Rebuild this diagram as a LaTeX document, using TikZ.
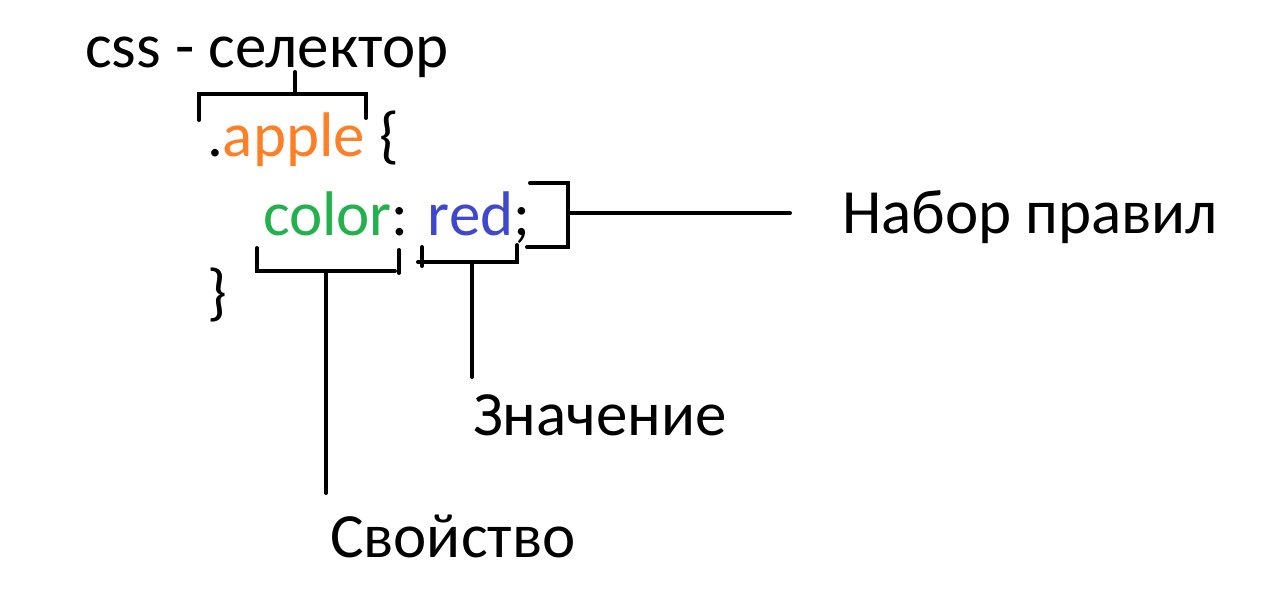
\documentclass[tikz,border=0pt]{standalone}
\usepackage{fontspec}
\setmainfont{Carlito}
\usepackage{xcolor}
\definecolor{paintorange}{HTML}{FF7F27}
\definecolor{paintgreen}{HTML}{22B14C}
\definecolor{paintblue}{HTML}{3F48CC}

\begin{document}
\begin{tikzpicture}[x=1pt, y=-1pt, line width=4pt, line cap=round,
    every node/.style={inner sep=0pt, anchor=base west, font=\fontsize{63}{70}\selectfont}]
        \useasboundingbox (0,0) rectangle (1262,610);

        \node (sel) at (83,67) {css - селектор};
        \node (apple) at (205,157) {.\textcolor{paintorange}{apple} \{};
        \node (decl) at (261,235) {\textcolor{paintgreen}{color}: \textcolor{paintblue}{red};};
        \node (close) at (205,313) {\}};
        \node (rules) at (840,233) {Набор правил};
        \node (value) at (471,435) {Значение};
        \node (prop) at (328,557) {Свойство};

        \coordinate (S1) at (199,120);
        \coordinate (S2) at (199,94);
        \coordinate (S3) at (366,94);
        \coordinate (S4) at (366,118);
        \coordinate (SM) at (295,94);
        \coordinate (SE) at (295,72);

        \coordinate (P1) at (257,248);
        \coordinate (P2) at (257,271);
        \coordinate (P3) at (395,271);
        \coordinate (PM) at (326,271);
        \coordinate (PE) at (326,493);

        \coordinate (V1) at (422,247);
        \coordinate (V2) at (418,262);
        \coordinate (V3) at (517,262);
        \coordinate (V4) at (517,245);
        \coordinate (VM) at (472,262);
        \coordinate (VE) at (472,377);

        \coordinate (R1) at (530,183);
        \coordinate (R2) at (568,183);
        \coordinate (R3) at (568,247);
        \coordinate (R4) at (527,247);
        \coordinate (RM) at (568,213);
        \coordinate (RE) at (790,213);

        \draw (S1)--(S2)--(S3)--(S4);
        \draw (SM)--(SE);
        \draw (P1)--(P2)--(P3);
        \draw (399,250)--(399,273);
        \draw (PM)--(PE);
        \draw (V1)--(422,266);
        \draw (V2)--(V3)--(V4);
        \draw (VM)--(VE);
        \draw (R1)--(R2)--(R3)--(R4);
        \draw (RM)--(RE);
    \end{tikzpicture}
\end{document}
